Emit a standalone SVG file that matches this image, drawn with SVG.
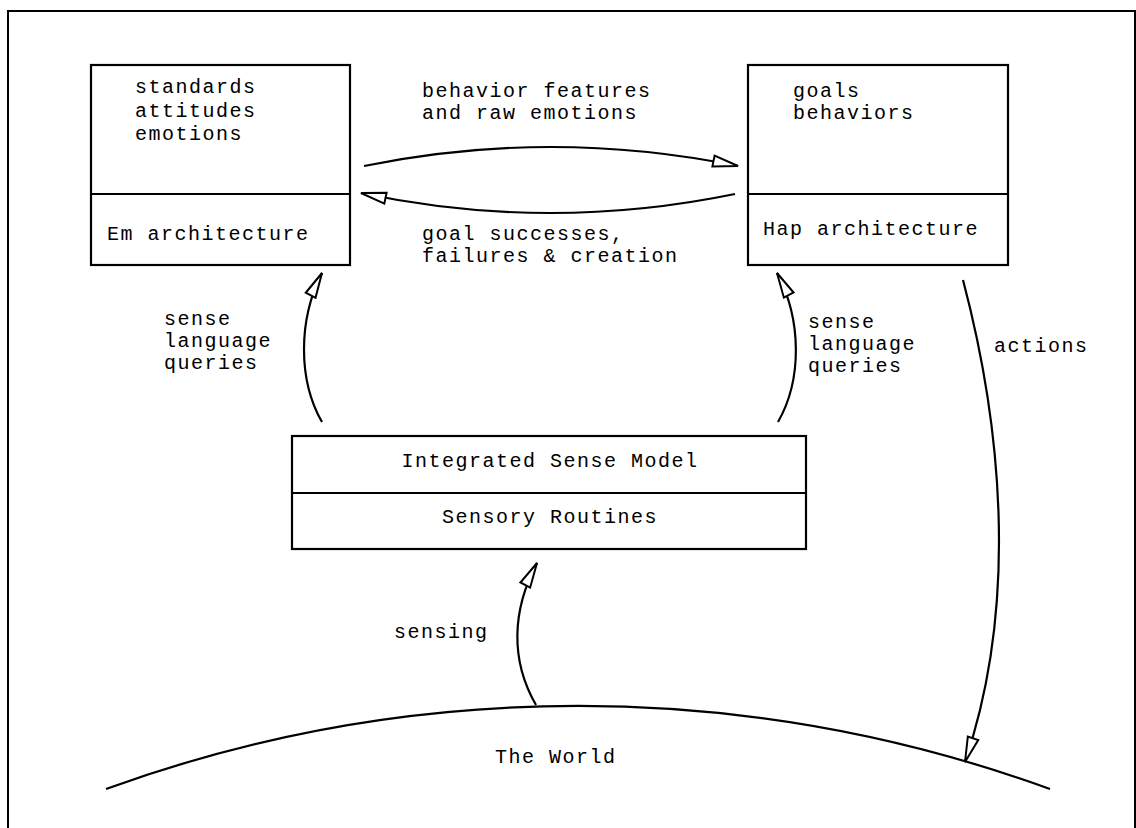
<svg xmlns="http://www.w3.org/2000/svg" width="1136" height="828" viewBox="0 0 1136 828">
  <style>
    .box { fill: #fff; stroke: #000; stroke-width: 2.2; }
    .line { fill: none; stroke: #000; stroke-width: 2.2; }
    .lbl { font-family: "Liberation Mono", "Courier New", monospace; font-size: 20px; letter-spacing: 1.5px; fill: #000; }
    .mid { text-anchor: middle; }
  </style>
  <defs>
    <marker id="open" viewBox="-28 -8 30 16" refX="0" refY="0" markerWidth="30" markerHeight="16" orient="auto" markerUnits="userSpaceOnUse">
      <path d="M0,0 L-25,-5.5 L-25,5.5 Z" fill="#fff" stroke="#000" stroke-width="2"/>
    </marker>
  </defs>

  <rect width="1136" height="828" fill="#fff"/>
  <!-- page frame -->
  <rect x="8" y="11" width="1127" height="900" fill="none" stroke="#000" stroke-width="2"/>

  <!-- Em architecture -->
  <g id="em">
    <rect class="box" x="91" y="65" width="259" height="200"/>
    <line class="line" x1="91" y1="194" x2="350" y2="194"/>
    <text class="lbl" x="135" y="93">standards</text>
    <text class="lbl" x="135" y="116.5">attitudes</text>
    <text class="lbl" x="135" y="140">emotions</text>
    <text class="lbl" x="107" y="240">Em architecture</text>
  </g>

  <!-- Hap architecture -->
  <g id="hap">
    <rect class="box" x="748" y="65" width="260" height="200"/>
    <line class="line" x1="748" y1="194" x2="1008" y2="194"/>
    <text class="lbl" x="793" y="97">goals</text>
    <text class="lbl" x="793" y="119">behaviors</text>
    <text class="lbl" x="763" y="235">Hap architecture</text>
  </g>

  <!-- sensing stack -->
  <g id="sense-model">
    <rect class="box" x="292" y="436" width="514" height="113"/>
    <line class="line" x1="292" y1="493" x2="806" y2="493"/>
    <text class="lbl mid" x="550" y="467">Integrated Sense Model</text>
    <text class="lbl mid" x="550" y="523">Sensory Routines</text>
  </g>

  <!-- ground -->
  <g id="world">
    <path class="line" d="M106,789 A1383,1383 0 0 1 1050,789"/>
    <text class="lbl" x="495" y="763">The World</text>
  </g>

  <!-- connectors -->
  <g id="connectors">
    <path class="line" d="M364,166 Q551,128 738,166" marker-end="url(#open)"/>
    <path class="line" d="M735,194 Q548,232.5 361,193" marker-end="url(#open)"/>
    <path class="line" d="M322,422 C298,380 298,320 322,273" marker-end="url(#open)"/>
    <path class="line" d="M778,422 C802,380 802,320 777,273" marker-end="url(#open)"/>
    <path class="line" d="M536,705 C510,660 512,610 537,563" marker-end="url(#open)"/>
    <path class="line" d="M963,280 C1000,420 1020,600 965,762" marker-end="url(#open)"/>
  </g>

  <!-- connector labels -->
  <g id="labels">
    <text class="lbl" x="422" y="97">behavior features</text>
    <text class="lbl" x="422" y="119">and raw emotions</text>
    <text class="lbl" x="422" y="240">goal successes,</text>
    <text class="lbl" x="422" y="262">failures &amp; creation</text>
    <text class="lbl" x="164" y="325">sense</text>
    <text class="lbl" x="164" y="347">language</text>
    <text class="lbl" x="164" y="369">queries</text>
    <text class="lbl" x="808" y="328">sense</text>
    <text class="lbl" x="808" y="350">language</text>
    <text class="lbl" x="808" y="372">queries</text>
    <text class="lbl" x="994" y="352">actions</text>
    <text class="lbl" x="394" y="638">sensing</text>
  </g>
</svg>
